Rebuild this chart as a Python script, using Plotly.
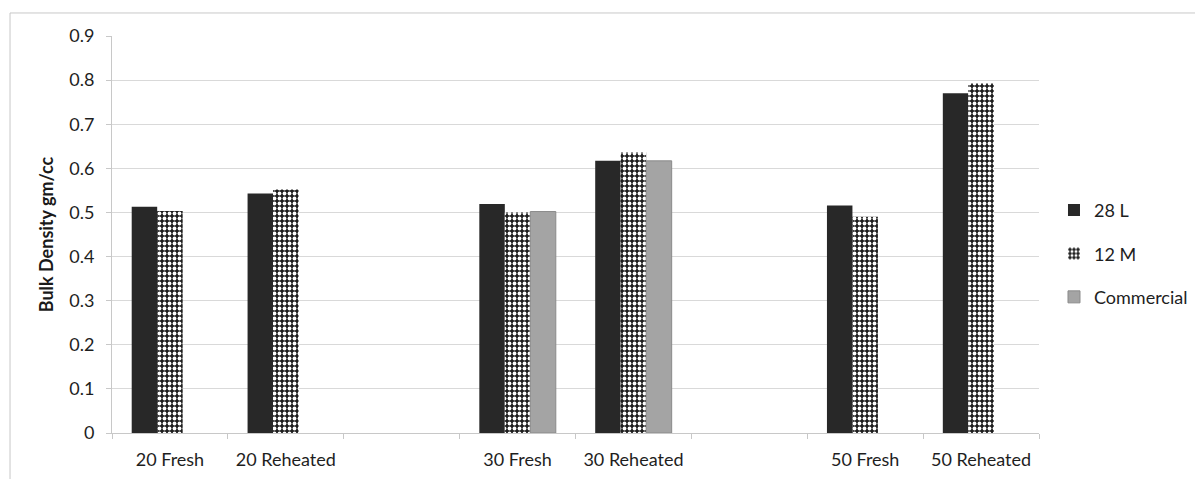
import plotly.graph_objects as go

categories = ["20 Fresh", "20 Reheated", " ", "30 Fresh", "30 Reheated", "  ", "50 Fresh", "50 Reheated"]
series_28L = [0.513, 0.543, None, 0.519, 0.617, None, 0.516, 0.770]
series_12M = [0.503, 0.552, None, 0.500, 0.636, None, 0.490, 0.793]
series_commercial = [None, None, None, 0.502, 0.617, None, None, None]
y_ticks = [0, 0.1, 0.2, 0.3, 0.4, 0.5, 0.6, 0.7, 0.8, 0.9]

FONT = "Lato, 'Open Sans', sans-serif"

fig = go.Figure()
fig.add_trace(go.Bar(x=categories, y=series_28L, name="28 L", legendgroup="a",
                     marker=dict(color="#282828", line=dict(width=0))))
fig.add_trace(go.Bar(x=categories, y=series_12M, name="12 M", legendgroup="b",
                     marker=dict(color="#1e1e1e", line=dict(width=0),
                                 pattern=dict(shape=".", bgcolor="#1e1e1e", fgcolor="#ffffff",
                                              size=5, solidity=0.45, fillmode="replace"))))
fig.add_trace(go.Bar(x=categories, y=series_commercial, name="Commercial", legendgroup="c",
                     marker=dict(color="#a4a4a4", line=dict(color="#8a8a8a", width=1))))

fig.update_layout(
    width=1195, height=479,
    paper_bgcolor="white", plot_bgcolor="white",
    margin=dict(l=112, r=156, t=36, b=46),
    barmode="group", bargap=0.34, bargroupgap=0,
    font=dict(family=FONT, size=18, color="#3a3a3a"),
    showlegend=True,
    legend=dict(xref="container", yref="container", x=0.882, y=0.470,
                xanchor="left", yanchor="middle",
                font=dict(size=18, color="#1e1e1e"), tracegroupgap=17,
                traceorder="grouped", itemwidth=30),
    shapes=[dict(type="rect", xref="paper", yref="paper",
                 x0=-0.110, x1=1.2, y0=-0.2, y1=1.058,
                 line=dict(color="#c8c8c8", width=1), fillcolor="rgba(0,0,0,0)", layer="below")],
)
fig.update_xaxes(type="category", tickson="boundaries", ticks="outside", ticklen=5,
                 tickcolor="#c8c8c8", showline=True, linecolor="#c8c8c8", linewidth=1,
                 showgrid=False, automargin=False, ticklabelstandoff=10,
                 tickfont=dict(size=18, color="#1e1e1e"))
fig.update_yaxes(range=[0, 0.9], tickvals=y_ticks, ticktext=[f"{v:g}" for v in y_ticks],
                 showgrid=True, gridcolor="#d9d9d9", gridwidth=1,
                 showline=True, linecolor="#c8c8c8", linewidth=1,
                 ticks="outside", ticklen=5, tickcolor="#c8c8c8",
                 ticklabelstandoff=8, zeroline=False, automargin=False,
                 tickfont=dict(size=18, color="#1e1e1e"),
                 title=dict(text="<b>Bulk Density gm/cc</b>", font=dict(size=18, color="#1a1a1a"), standoff=10))

fig.write_html("out.html", config={"displayModeBar": False},
               post_script="document.body.style.margin='0';")
